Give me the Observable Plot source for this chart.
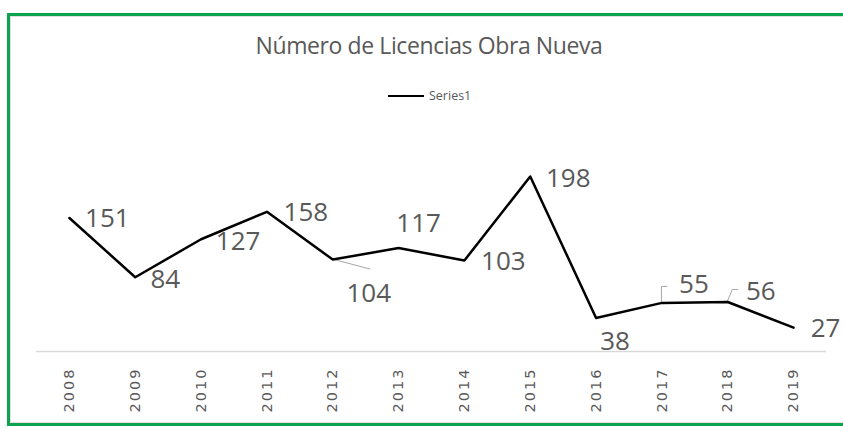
<!DOCTYPE html>
<html><head><meta charset="utf-8">
<script src="https://cdn.jsdelivr.net/npm/d3@7"></script>
<script src="https://cdn.jsdelivr.net/npm/@observablehq/plot@0.6"></script>
<style>
html,body{margin:0;padding:0;background:#fff}
body{width:843px;height:428px;overflow:hidden;position:relative;font-family:"Open Sans",sans-serif}
#frame{position:absolute;left:7px;top:13px;width:850px;height:407px;border:3px solid #0ba34e;box-sizing:content-box}
#inner{position:absolute;left:10px;top:16px;width:845px;height:405px;border:1px solid #e0e0e0}
#title{position:absolute;left:0;width:858px;top:29px;text-align:center;font-size:23px;color:#595959;font-family:"Open Sans",sans-serif;letter-spacing:-0.4px}
#legend{position:absolute;left:388px;top:87px;display:flex;align-items:center;font-size:12.5px;color:#595959;font-family:"Liberation Sans Narrow","Open Sans",sans-serif}
#legend .sw{width:36px;height:0;border-top:2.5px solid #000;margin-right:5px}
#chart{position:absolute;left:0;top:0}
#chart svg g[aria-label="x-axis tick label"] text{letter-spacing:2px}
</style></head>
<body>
<div id="frame"></div>
<div id="inner"></div>
<div id="title">Número de Licencias Obra Nueva</div>
<div id="legend"><div class="sw"></div><span>Series1</span></div>
<div id="chart"></div>
<script>
const years = ["2008","2009","2010","2011","2012","2013","2014","2015","2016","2017","2018","2019"];
const values = [151,84,127,158,104,117,103,198,38,55,56,27];

const data = years.map((year, i) => ({year, value: values[i]}));

// label placement offsets (px) relative to each point, as in the original chart
const labelOffset = {
  "2008": [38, 1], "2009": [30, 2], "2010": [37, 2], "2011": [39, 1],
  "2012": [36, 34], "2013": [20, -24], "2014": [39, 1], "2015": [38, 2],
  "2016": [19, 24], "2017": [32, -18], "2018": [33, -10], "2019": [32, 1]
};

const labelMarks = data.map(d => Plot.text([d], {
  x: "year", y: "value", text: d => String(d.value),
  dx: labelOffset[d.year][0], dy: labelOffset[d.year][1],
  fontSize: 26, fill: "#595959", fontFamily: "Open Sans"
}));

const plot = Plot.plot({
  width: 843, height: 428,
  marginLeft: 36, marginRight: 17, marginTop: 130, marginBottom: 77,
  style: {background: "transparent", overflow: "visible"},
  x: {type: "band", domain: years, padding: 0, round: false},
  y: {domain: [0, 250], axis: null},
  marks: [
    Plot.ruleY([0], {stroke: "#d9d9d9", strokeWidth: 1.5}),
    Plot.axisX({tickSize: 0, tickRotate: -90, tickPadding: 16, fontSize: 14.5, fill: "#595959", fontFamily: "DejaVu Sans", label: null}),
    Plot.line(data, {x: "year", y: "value", stroke: "#000", strokeWidth: 2.5}),
    ...labelMarks
  ]
});
document.getElementById("chart").appendChild(plot);

// leader lines for the displaced labels
const xs = plot.scale("x"), ys = plot.scale("y");
const bw = xs.bandwidth;
const svg = d3.select(plot);
const px = yr => xs.apply(yr) + bw / 2;
const py = yr => ys.apply(values[years.indexOf(yr)]);
const leaders = [
  ["2012", [[0, 0], [38, 10]]],
  ["2017", [[0, 0], [0, -16], [6, -16]]],
  ["2018", [[0, 0], [5, -12], [11, -12]]]
];
for (const [yr, pts] of leaders) {
  svg.append("path")
    .attr("d", d3.line()(pts.map(([a, b]) => [px(yr) + a, py(yr) + b])))
    .attr("fill", "none").attr("stroke", "#a6a6a6").attr("stroke-width", 1);
}
svg.selectAll('g[aria-label="line"]').raise();
svg.selectAll('g[aria-label="text"]').raise();
</script>
</body></html>
